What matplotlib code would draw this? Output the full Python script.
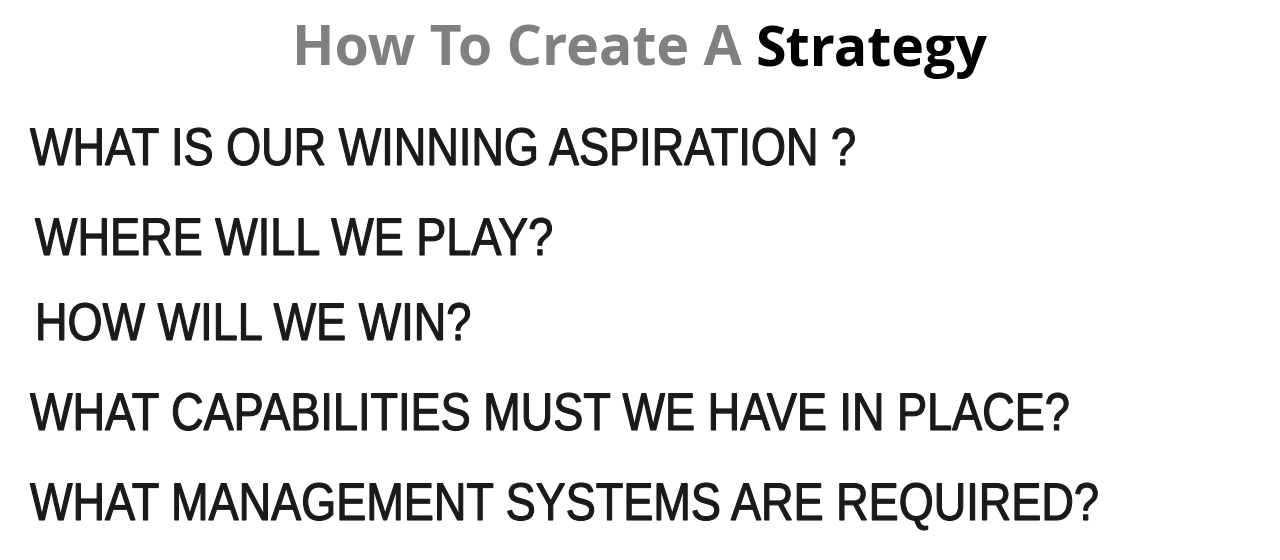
import matplotlib.pyplot as plt
from matplotlib.textpath import TextPath
from matplotlib.patches import PathPatch
from matplotlib.font_manager import FontProperties
from matplotlib.transforms import Affine2D

title_grey = "How To Create A"
title_black = "Strategy"
questions = [
    "WHAT IS OUR WINNING ASPIRATION ?",
    "WHERE WILL WE PLAY?",
    "HOW WILL WE WIN?",
    "WHAT CAPABILITIES MUST WE HAVE IN PLACE?",
    "WHAT MANAGEMENT SYSTEMS ARE REQUIRED?",
]
baselines = [165, 255, 340, 430, 520]
lefts = [30, 35, 35, 30, 30]

W, H = 1280, 560
fig = plt.figure(figsize=(12.8, 5.6), dpi=100)
fig.patch.set_facecolor('white')
ax = fig.add_axes([0, 0, 1, 1])
ax.set_xlim(0, W)
ax.set_ylim(0, H)
ax.axis('off')

def fy(y):
    return 1 - y / H

tfont = ['Open Sans', 'DejaVu Sans']
fig.text(742 / W, fy(66), title_grey, ha='right', va='baseline', fontsize=40,
         fontweight='bold', color='#808080', family=tfont)
fig.text(755 / W, fy(66), title_black, ha='left', va='baseline', fontsize=40,
         fontweight='bold', color='black', family=tfont)

# condensed question text: squeeze a normal sans horizontally
qprop = FontProperties(family='Liberation Sans', size=53)
for q, y, x in zip(questions, baselines, lefts):
    tp = TextPath((0, 0), q, prop=qprop)
    path = tp.transformed(Affine2D().scale(0.85, 1.0).translate(x, H - y))
    ax.add_patch(PathPatch(path, facecolor='#1a1a1a', edgecolor='#1a1a1a', lw=0.8))

plt.savefig('out.png', dpi=100, facecolor='white')
